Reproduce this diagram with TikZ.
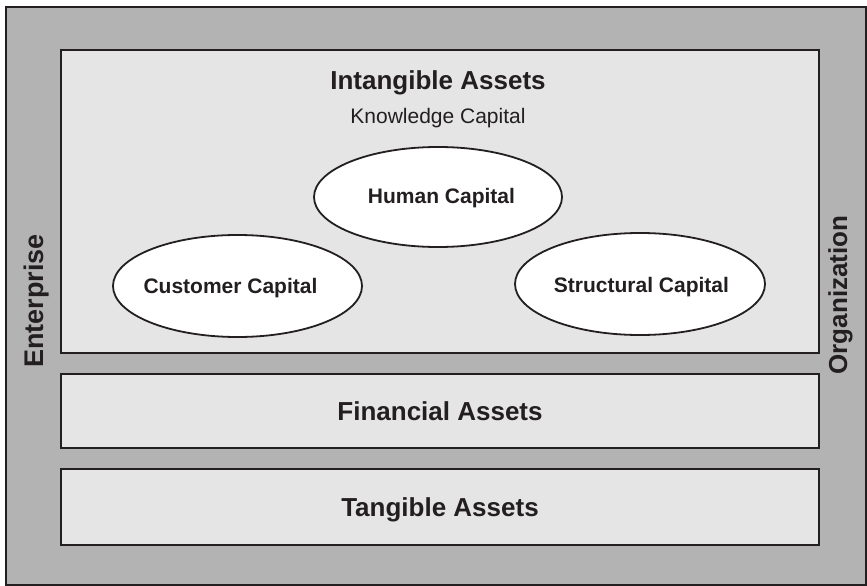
\documentclass[tikz,border=0pt]{standalone}
\usepackage{fontspec}
\setmainfont{Liberation Sans}
\usetikzlibrary{shapes.geometric}
\definecolor{outergray}{HTML}{B3B3B3}
\definecolor{innergray}{HTML}{E5E5E5}
\definecolor{ink}{HTML}{231F20}
\begin{document}
\begin{tikzpicture}[x=1pt,y=-1pt,
  frame/.style={draw=ink, line width=2pt, inner sep=0pt, anchor=north west},
  panel/.style={frame, fill=innergray, minimum width=758pt, text depth=0pt, text=ink,
                font=\bfseries\fontsize{26}{30}\selectfont},
  capital/.style={ellipse, draw=ink, line width=1.8pt, fill=white, inner sep=0pt},
  capitaltext/.style={anchor=base, text=ink, inner sep=0pt,
                  font=\bfseries\fontsize{21}{25}\selectfont},
  sidelabel/.style={rotate=90, anchor=base, text=ink, inner sep=0pt,
                    font=\bfseries\fontsize{27}{30}\selectfont},
  titletext/.style={anchor=base, text=ink, inner sep=0pt}]
\useasboundingbox (0,0) rectangle (867,586);
\node[frame, fill=outergray, minimum width=860pt, minimum height=578pt] (outer) at (5,6) {};
\node[panel, minimum height=303pt] (intangible) at (60,49) {};
\node[panel, minimum height=74pt] (financial) at (60,373) {Financial Assets};
\node[panel, minimum height=76pt] (tangible) at (60,468) {Tangible Assets};
\node[titletext, font=\bfseries\fontsize{26}{30}\selectfont] (ia) at (438,89) {Intangible Assets};
\node[titletext, font=\fontsize{21}{25}\selectfont] (kc) at (438,123) {Knowledge Capital};
\node[capital, minimum width=248pt, minimum height=100pt] (human) at (438,197) {};
\node[capital, minimum width=249pt, minimum height=102pt] (customer) at (237.5,286) {};
\node[capital, minimum width=250pt, minimum height=102pt] (structural) at (640,284) {};
\node[capitaltext] (humantext) at (441.5,203) {Human Capital};
\node[capitaltext] (customertext) at (230.5,293) {Customer Capital};
\node[capitaltext] (structuraltext) at (641.5,292) {Structural Capital};
\node[sidelabel] (enterprise) at (43,301) {Enterprise};
\node[sidelabel, font=\bfseries\fontsize{26}{30}\selectfont] (organization) at (847,295) {Organization};
\end{tikzpicture}
\end{document}
